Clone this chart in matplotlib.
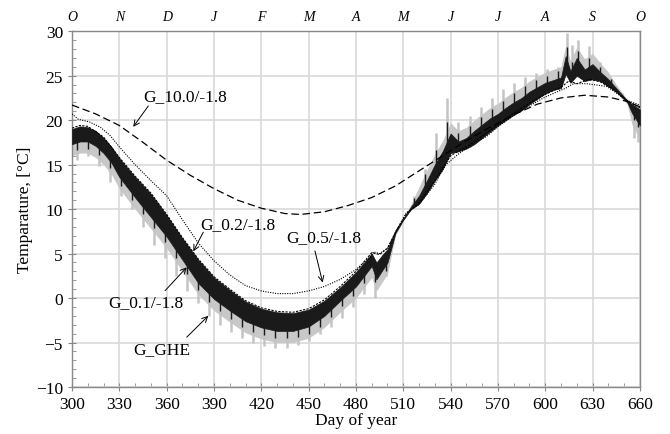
import numpy as np
import matplotlib
matplotlib.use("Agg")
import matplotlib.pyplot as plt

plt.rcParams['font.family'] = ['Liberation Serif', 'DejaVu Serif']

# ---- data ----
band_day = [300, 305, 310, 315, 320, 325, 330, 340, 350, 360, 370, 380, 390, 400, 410, 420,
            430, 440, 450, 460, 470, 480, 490, 493, 497, 500, 505, 510, 515, 520, 525, 530,
            535, 540, 545, 550, 555, 560, 565, 570, 575, 580, 585, 590, 595, 600, 605, 610,
            613, 616, 620, 625, 630, 635, 640, 645, 652, 655, 660]
# G_0.1/-1.8 (black band, upper / lower)
g01_hi = [19.0, 19.3, 19.2, 18.8, 18.0, 17.0, 15.7, 13.6, 11.7, 9.3, 6.7, 4.3, 2.3, 0.9, -0.4, -1.2,
          -1.6, -1.7, -1.3, -0.3, 1.2, 2.9, 5.0, 4.0, 4.9, 5.5, 7.6, 8.9, 10.3, 11.5, 13.2, 15.0,
          16.5, 18.5, 17.6, 18.0, 18.8, 19.5, 20.2, 20.7, 21.4, 22.0, 22.5, 23.2, 23.7, 24.2, 24.5, 24.8,
          27.2, 25.5, 27.0, 25.7, 26.3, 25.4, 24.6, 23.6, 22.2, 21.8, 21.2]
g01_lo = [17.3, 17.6, 17.6, 17.1, 16.3, 15.2, 13.6, 11.3, 9.1, 6.9, 4.3, 1.7, -0.1, -1.4, -2.6, -3.3,
          -3.7, -3.7, -3.2, -2.0, -0.3, 1.3, 3.6, 2.1, 3.2, 4.0, 7.3, 8.8, 10.0, 10.6, 11.8, 13.2,
          14.5, 16.3, 16.5, 16.8, 17.3, 18.0, 18.7, 19.4, 20.0, 20.6, 21.1, 21.8, 22.4, 23.0, 23.4, 23.6,
          25.2, 24.2, 25.0, 24.4, 24.6, 24.4, 23.8, 23.2, 22.0, 20.8, 19.4]
# G_GHE (grey band, upper / lower)
ghe_hi = [19.0, 19.3, 19.2, 18.8, 18.0, 17.0, 15.7, 13.6, 11.7, 9.3, 6.7, 4.3, 2.3, 0.9, -0.4, -1.2,
          -1.6, -1.7, -1.3, -0.3, 1.2, 2.9, 5.0, 4.0, 4.9, 5.5, 7.6, 8.9, 10.6, 12.5, 14.4, 16.2,
          17.7, 19.7, 18.8, 19.2, 20.0, 20.7, 21.4, 21.9, 22.6, 23.2, 23.7, 24.4, 24.9, 25.4, 25.7, 26.0,
          28.4, 26.7, 28.2, 26.9, 27.5, 26.4, 25.4, 24.0, 22.3, 22.0, 21.4]
ghe_lo = [16.0, 16.3, 16.3, 15.8, 15.0, 13.9, 12.3, 10.0, 7.8, 5.6, 3.0, 0.4, -1.4, -2.7, -3.9, -4.6,
          -5.0, -5.0, -4.5, -3.3, -1.6, 0.0, 2.3, 0.8, 1.9, 2.7, 7.0, 8.7, 10.0, 10.6, 11.8, 13.2,
          14.5, 16.3, 16.5, 16.8, 17.3, 18.0, 18.7, 19.4, 20.0, 20.6, 21.1, 21.8, 22.4, 23.0, 23.4, 23.6,
          25.2, 24.2, 25.0, 24.4, 24.6, 24.4, 23.8, 23.2, 21.8, 19.5, 17.8]
# weekly peaks of G_GHE and of G_0.1
spike_day = [303, 310, 317, 324, 331, 338, 345, 352, 359, 366, 373, 380, 387, 394, 401, 408, 415,
             422, 429, 436, 443, 450, 457, 464, 471, 478, 485, 492, 499,
             517, 524, 531, 538, 545, 552, 559, 566, 573, 580, 587, 594, 601, 608, 614, 617,
             621, 628, 635, 642, 649, 656, 659]
spike_tip = [15.5, 16.0, 14.8, 13.0, 11.5, 10.0, 8.0, 6.0, 4.5, 2.5, 0.8, -0.5, -2.0, -3.0, -3.8,
             -4.5, -5.0, -5.4, -5.6, -5.6, -5.3, -4.8, -4.0, -3.3, -2.2, -1.0, 0.5, 0.0, 2.5,
             11.5, 14.5, 18.5, 22.5, 19.8, 20.5, 21.5, 22.5, 23.5, 24.2, 24.8, 25.3, 25.8, 26.0,
             29.8, 28.5, 29.0, 28.3, 26.5, 24.6, 23.0, 18.0, 17.5]
black_tip = [16.6, 16.8, 16.1, 14.6, 12.6, 11.0, 9.4, 7.9, 6.3, 4.5, 2.7, 0.9, -0.4, -1.4, -2.3,
             -3.2, -3.8, -4.2, -4.5, -4.5, -4.4, -4.0, -3.2, -2.1, -0.9, 0.2, 1.7, 1.8, 3.0,
             11.3, 13.9, 16.6, 19.8, 18.6, 19.3, 20.4, 21.3, 22.2, 23.0, 23.8, 24.5, 25.0, 25.5,
             28.2, 26.5, 27.8, 27.0, 26.0, 24.6, 22.8, 20.0, 19.2]

g10_day = [300, 315, 330, 345, 360, 375, 390, 405, 420, 435, 445, 460, 475, 490, 505, 520,
           535, 550, 565, 580, 595, 610, 625, 640, 652, 660]
g10 = [21.7, 20.7, 19.4, 17.5, 15.5, 13.8, 12.3, 11.0, 10.1, 9.5, 9.4, 9.7, 10.4, 11.3, 12.6, 14.3,
       16.0, 17.7, 19.2, 20.6, 21.8, 22.5, 22.8, 22.6, 22.1, 21.5]

g05_day = [300, 304, 311, 318, 324, 330, 340, 350, 360, 370, 380, 390, 400, 410, 420, 430, 440,
           450, 460, 470, 480, 490, 491, 495, 500, 506, 512, 520, 530, 537, 545, 553, 563, 571,
           584, 600, 613, 618, 626, 639, 652, 660]
g05 = [20.7, 20.1, 19.8, 19.2, 18.3, 17.0, 15.0, 13.2, 11.5, 8.8, 6.2, 4.2, 2.6, 1.4, 0.8, 0.5, 0.5,
       0.8, 1.3, 2.1, 3.2, 4.8, 5.2, 5.0, 5.6, 7.7, 9.6, 10.5, 12.8, 15.0, 16.2, 17.2, 18.2, 19.4,
       21.0, 22.6, 23.6, 24.1, 24.1, 23.8, 22.2, 21.7]

g02_day = [300, 305, 310, 320, 330, 340, 350, 360, 370, 380, 390, 400, 410, 420, 430, 440, 450,
           460, 470, 480, 490, 495, 500, 506, 512, 520, 530, 540, 550, 560, 570, 580, 590, 600,
           610, 615, 620, 628, 635, 642, 652, 660]
g02 = [19.1, 19.4, 19.3, 18.1, 15.8, 13.7, 11.8, 9.4, 6.8, 4.4, 2.4, 1.0, -0.3, -1.1, -1.5, -1.6,
       -1.2, -0.2, 1.3, 3.0, 5.1, 4.9, 5.6, 7.7, 9.5, 10.7, 13.2, 16.0, 17.0, 18.2, 19.5, 20.8, 21.9,
       22.9, 23.7, 24.4, 24.1, 24.6, 24.3, 23.6, 22.2, 21.4]

month_labels = ['O', 'N', 'D', 'J', 'F', 'M', 'A', 'M', 'J', 'J', 'A', 'S', 'O']

fig = plt.figure(figsize=(6.7, 4.35), dpi=100)
ax = fig.add_axes([0.1075, 0.108, 0.8475, 0.818])

# grey G_GHE
ax.fill_between(band_day, ghe_lo, ghe_hi, color='#c8c8c8', lw=0, zorder=2)
base = np.interp(spike_day, band_day, g01_lo)
ax.vlines(spike_day, base, spike_tip, color='#c4c4c4', lw=1.8, zorder=2)
# black G_0.1
ax.fill_between(band_day, g01_lo, g01_hi, color='#1a1a1a', lw=0.5, edgecolor='#1a1a1a', zorder=3)
mid = (np.interp(spike_day, band_day, g01_lo) + np.interp(spike_day, band_day, g01_hi)) / 2
ax.vlines(spike_day, mid, black_tip, color='#1a1a1a', lw=1.0, zorder=3)

ax.plot(g10_day, g10, color='black', lw=0.9, ls=(0, (6, 3)), zorder=4)
ax.plot(g05_day, g05, color='black', lw=0.8, ls=(0, (1, 1.2)), zorder=4)
ax.plot(g02_day, g02, color='black', lw=0.8, ls=(0, (2, 1.2)), zorder=4)

ax.set_xlim(300, 660)
ax.set_ylim(-10, 30)
ax.set_xticks(np.arange(300, 661, 30))
ax.set_yticks(np.arange(-10, 31, 5))
ax.set_xticks(np.arange(300, 661, 10), minor=True)
ax.set_yticks(np.arange(-10, 31, 1), minor=True)
ax.grid(True, which='major', color='#d9d9d9', lw=1.2, zorder=0)
ax.set_axisbelow(True)
for s in ax.spines.values():
    s.set_color('#888888')
    s.set_linewidth(1.0)
ax.tick_params(which='major', direction='inout', length=6, color='#888888', labelsize=12.5,
               top=False, right=False)
ax.tick_params(which='minor', direction='in', length=3, color='#888888', top=False, right=False)
ax.set_xlabel('Day of year', fontsize=12.5, labelpad=0)
ax.set_ylabel('Temparature, [°C]', fontsize=12.5, labelpad=2)

top = ax.twiny()
top.set_xlim(300, 660)
top.set_xticks(np.arange(300, 661, 30))
top.set_xticklabels(month_labels, fontstyle='italic', fontsize=10)
top.tick_params(length=0, pad=6)
for s in top.spines.values():
    s.set_visible(False)

arrow = dict(arrowstyle='->', lw=0.7, color='black', shrinkA=0, shrinkB=0)
ax.text(345, 22.7, 'G_10.0/-1.8', fontsize=12.5, va='center')
ax.annotate('', xy=(338.8, 19.25), xytext=(348.4, 21.6), arrowprops=arrow)
ax.text(381, 8.3, 'G_0.2/-1.8', fontsize=12.5, va='center')
ax.annotate('', xy=(376.9, 5.25), xytext=(383.2, 7.4), arrowprops=arrow)
ax.text(323, -0.5, 'G_0.1/-1.8', fontsize=12.5, va='center')
ax.annotate('', xy=(372.7, 3.45), xytext=(359, 0.83), arrowprops=arrow)
ax.text(338.8, -5.7, 'G_GHE', fontsize=12.5, va='center')
ax.annotate('', xy=(386.4, -2.0), xytext=(372.7, -4.4), arrowprops=arrow)
ax.text(436, 6.8, 'G_0.5/-1.8', fontsize=12.5, va='center')
ax.annotate('', xy=(458.9, 1.75), xytext=(454, 5.3), arrowprops=arrow)

fig.savefig('out.png', dpi=100)
